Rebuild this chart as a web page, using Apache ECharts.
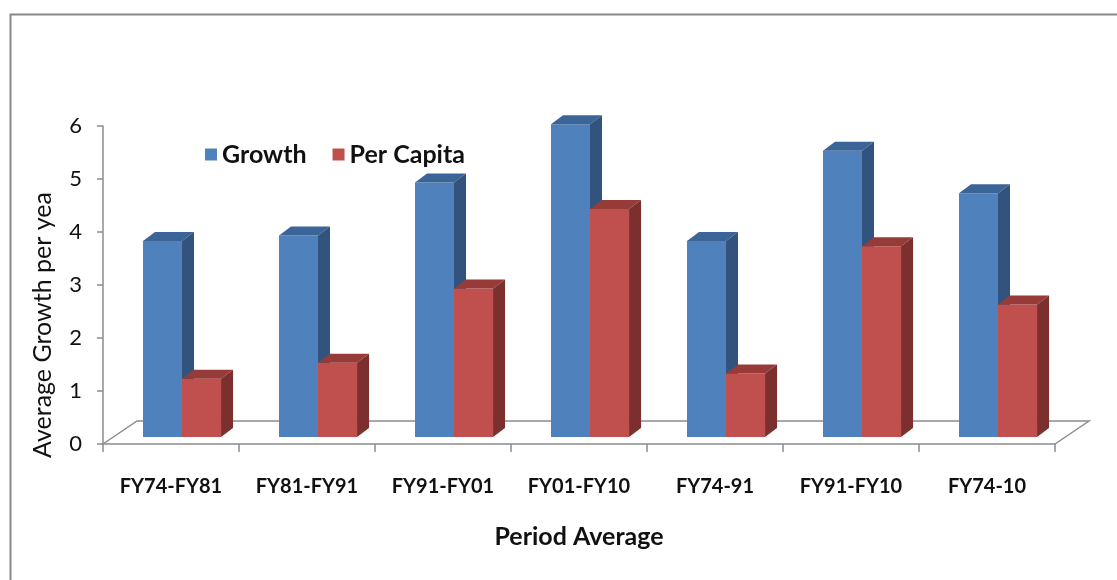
<!DOCTYPE html>
<html>
<head>
<meta charset="utf-8">
<style>
  html, body { margin: 0; padding: 0; background: #ffffff; }
  #chart { width: 1117px; height: 580px; }
</style>
<script src="https://cdn.jsdelivr.net/npm/echarts@6/dist/echarts.min.js"></script>
</head>
<body>
<div id="chart"></div>
<script>
// Period labels and average growth values (percent per year)
const categories = ['FY74-FY81', 'FY81-FY91', 'FY91-FY01', 'FY01-FY10', 'FY74-91', 'FY91-FY10', 'FY74-10'];
const growth = [3.7, 3.8, 4.8, 5.9, 3.7, 5.4, 4.6];
const perCapita = [1.1, 1.4, 2.8, 4.3, 1.2, 3.6, 2.5];
const yTicks = [0, 1, 2, 3, 4, 5, 6];

// 3D look: floor depth, bar depth and how far bars stand behind the front edge
const FLOOR_DX = 34, FLOOR_DY = 23;
const BAR_DX = 12, BAR_DY = 9;
const BAR_LIFT = 7;
const FONT = 'Lato';

const palette = {
  growth: { front: '#4F81BD', top: '#3C6597', side: '#31537D' },
  perCapita: { front: '#C0504D', top: '#963B38', side: '#7B302E' }
};

function barRenderer(colors, leftOfCenter) {
  return function (params, api) {
    const i = api.value(0);
    const v = api.value(1);
    const topPt = api.coord([i, v]);
    const basePt = api.coord([i, 0]);
    const band = api.size([1, 0])[0];
    const w = band * 0.287;
    const pairX = topPt[0] + band * 0.081;
    const x = leftOfCenter ? pairX - w : pairX;
    const y0 = basePt[1] - BAR_LIFT;
    const y1 = topPt[1] - BAR_LIFT;
    return {
      type: 'group',
      children: [
        { type: 'rect', shape: { x: x, y: y1, width: w, height: y0 - y1 },
          style: { fill: colors.front } },
        { type: 'polygon', shape: { points: [[x, y1], [x + BAR_DX, y1 - BAR_DY], [x + w + BAR_DX, y1 - BAR_DY], [x + w, y1]] },
          style: { fill: colors.top } },
        { type: 'polygon', shape: { points: [[x + w, y1], [x + w + BAR_DX, y1 - BAR_DY], [x + w + BAR_DX, y0 - BAR_DY], [x + w, y0]] },
          style: { fill: colors.side } }
      ]
    };
  };
}

function floorRenderer(params, api) {
  const cs = params.coordSys;
  const xl = cs.x, xr = cs.x + cs.width, yb = cs.y + cs.height;
  return {
    type: 'polyline',
    shape: { points: [[xl, yb], [xl + FLOOR_DX, yb - FLOOR_DY], [xr + FLOOR_DX, yb - FLOOR_DY], [xr, yb]] },
    style: { stroke: '#8C8C8C', lineWidth: 1.5, fill: null }
  };
}

const chart = echarts.init(document.getElementById('chart'), null, { renderer: 'canvas' });
chart.setOption({
  animation: false,
  backgroundColor: '#ffffff',
  graphic: [
    {
      type: 'rect', left: 8, top: 12,
      shape: { width: 1300, height: 800 },
      style: { fill: null, stroke: '#888888', lineWidth: 2 },
      z: 0
    },
    {
      // value axis title, rotated along the left side
      type: 'text', x: 43, y: 325, rotation: Math.PI / 2,
      style: {
        text: 'Average Growth per yea',
        fontFamily: FONT, fontSize: 25, fill: '#111',
        align: 'center', verticalAlign: 'middle'
      },
      z: 5
    }
  ],
  grid: { left: 103, right: 62, top: 126, bottom: 136, containLabel: false },
  legend: {
    left: 205, top: 142, padding: 0,
    itemWidth: 12, itemHeight: 12, itemGap: 26,
    icon: 'rect',
    textStyle: { fontFamily: FONT, fontSize: 25, fontWeight: 'bold', color: '#111' },
    data: ['Growth', 'Per Capita']
  },
  xAxis: {
    type: 'category',
    data: categories,
    name: 'Period Average',
    nameLocation: 'middle',
    nameGap: 80,
    nameTextStyle: { fontFamily: FONT, fontSize: 25, fontWeight: 'bold', color: '#111' },
    axisLine: { lineStyle: { color: '#8C8C8C', width: 1.5 } },
    axisTick: { show: true, length: 8, interval: 0, lineStyle: { color: '#8C8C8C', width: 1.5 } },
    axisLabel: { margin: 33, fontFamily: FONT, fontSize: 20, fontWeight: 'bold', color: '#111', interval: 0 },
    splitLine: { show: false }
  },
  yAxis: {
    type: 'value',
    min: yTicks[0], max: yTicks[yTicks.length - 1], interval: 1,
    axisLine: { show: true, lineStyle: { color: '#8C8C8C', width: 1.5 } },
    axisTick: { show: true, length: 6, lineStyle: { color: '#8C8C8C', width: 1.5 } },
    axisLabel: { margin: 21, fontFamily: FONT, fontSize: 22, color: '#111' },
    splitLine: { show: false }
  },
  series: [
    {
      name: 'floor', type: 'custom', renderItem: floorRenderer,
      data: [[0, 0]], silent: true, z: 1
    },
    {
      name: 'Growth', type: 'custom', renderItem: barRenderer(palette.growth, true),
      itemStyle: { color: palette.growth.front },
      encode: { x: 0, y: 1 },
      data: growth.map((v, i) => [i, v]), z: 2
    },
    {
      name: 'Per Capita', type: 'custom', renderItem: barRenderer(palette.perCapita, false),
      itemStyle: { color: palette.perCapita.front },
      encode: { x: 0, y: 1 },
      data: perCapita.map((v, i) => [i, v]), z: 3
    }
  ]
});
</script>
</body>
</html>
